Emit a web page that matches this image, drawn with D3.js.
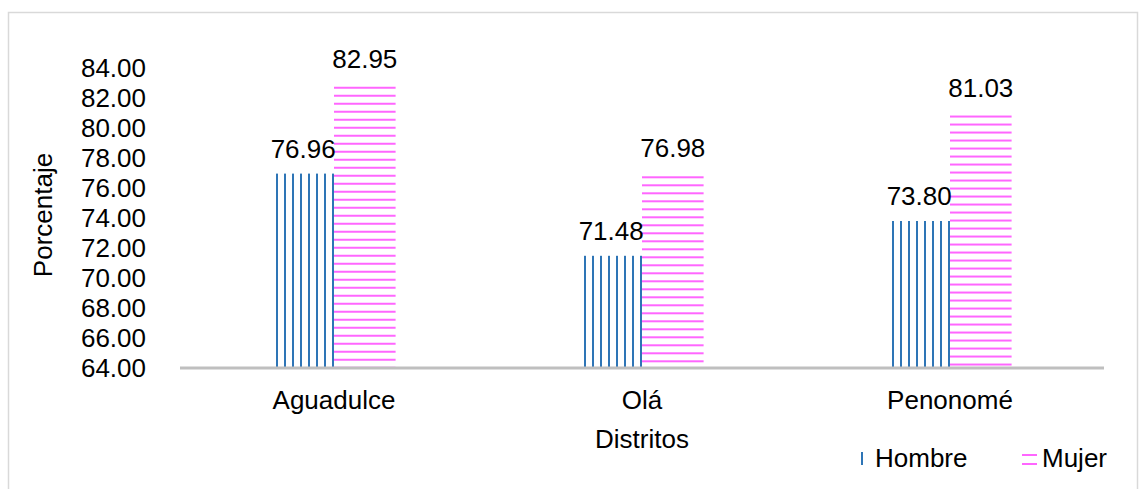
<!DOCTYPE html>
<html>
<head>
<meta charset="utf-8">
<script src="https://cdn.jsdelivr.net/npm/d3@7"></script>
<style>
  body { margin: 0; background: #fff; }
  text { font-family: "Liberation Sans", Arial, sans-serif; fill: #000; }
</style>
</head>
<body>
<svg id="chart" width="1146" height="489"></svg>
<script>
var distritos = ["Aguadulce", "Olá", "Penonomé"];
var hombre = [76.96, 71.48, 73.80];
var mujer = [82.95, 76.98, 81.03];
var series = ["Hombre", "Mujer"];
var yTicks = [64, 66, 68, 70, 72, 74, 76, 78, 80, 82, 84];

var colors = {Hombre: "#2e75b6", Mujer: "#ff66ff"};
var fs = "26px";

var svg = d3.select("#chart");

// outer frame
svg.append("rect")
   .attr("x", 8.5).attr("y", 12.5)
   .attr("width", 1129).attr("height", 500)
   .attr("fill", "none")
   .attr("stroke", "#d9d9d9")
   .attr("stroke-width", 1.5);

var x0 = d3.scaleBand()
   .domain(distritos)
   .range([180, 1104])
   .paddingInner(0)
   .paddingOuter(0);

var x1 = d3.scaleBand()
   .domain(series)
   .range([0, x0.bandwidth() * 0.4]);

var y = d3.scaleLinear()
   .domain([64, 84])
   .range([368, 68]);

// y tick labels
svg.append("g")
   .selectAll("text")
   .data(yTicks)
   .join("text")
   .attr("x", 146)
   .attr("y", function (d) { return y(d); })
   .attr("dy", "0.35em")
   .attr("text-anchor", "end")
   .style("font-size", fs)
   .text(function (d) { return d.toFixed(2); });

var rows = [];
distritos.forEach(function (c, i) {
   rows.push({cat: c, s: "Hombre", v: hombre[i], i: i});
   rows.push({cat: c, s: "Mujer", v: mujer[i], i: i});
});

function barX(d) {
   return x0(d.cat) + x0.bandwidth() * 0.3 + x1(d.s);
}

// one pattern per bar so the stripes line up with each bar
var defs = svg.append("defs");
rows.forEach(function (d, k) {
   var bx = barX(d), bw = x1.bandwidth(), by = y(d.v);
   var p = defs.append("pattern")
      .attr("id", "pat" + k)
      .attr("patternUnits", "userSpaceOnUse")
      .attr("width", 8).attr("height", 8);
   if (d.s === "Hombre") {
      p.attr("x", bx + bw - 2).attr("y", 0);
      p.append("rect").attr("x", 0).attr("y", 0)
       .attr("width", 2).attr("height", 8)
       .attr("fill", colors.Hombre);
   } else {
      p.attr("x", bx).attr("y", by + 3);
      p.append("rect").attr("x", 0).attr("y", 0)
       .attr("width", 8).attr("height", 2)
       .attr("fill", colors.Mujer);
   }
   d.pat = "url(#pat" + k + ")";
});

svg.append("g")
   .selectAll("rect")
   .data(rows)
   .join("rect")
   .attr("x", barX)
   .attr("y", function (d) { return y(d.v); })
   .attr("width", x1.bandwidth())
   .attr("height", function (d) { return y(64) - y(d.v); })
   .attr("fill", function (d) { return d.pat; });

// data labels
svg.append("g")
   .selectAll("text")
   .data(rows)
   .join("text")
   .attr("x", function (d) { return barX(d) + x1.bandwidth() / 2; })
   .attr("y", function (d) { return y(d.v) - 16; })
   .attr("text-anchor", "middle")
   .style("font-size", fs)
   .text(function (d) { return d.v.toFixed(2); });

// x axis line
svg.append("line")
   .attr("x1", 180).attr("x2", 1104)
   .attr("y1", y(64)).attr("y2", y(64))
   .attr("stroke", "#bfbfbf")
   .attr("stroke-width", 3);

// category labels
svg.append("g")
   .selectAll("text")
   .data(distritos)
   .join("text")
   .attr("x", function (d) { return x0(d) + x0.bandwidth() / 2; })
   .attr("y", 409)
   .attr("text-anchor", "middle")
   .style("font-size", fs)
   .text(function (d) { return d; });

// axis titles
svg.append("text")
   .attr("x", 642).attr("y", 448)
   .attr("text-anchor", "middle")
   .style("font-size", fs)
   .text("Distritos");

svg.append("text")
   .attr("transform", "translate(52,215) rotate(-90)")
   .attr("text-anchor", "middle")
   .style("font-size", fs)
   .text("Porcentaje");

// legend
var legend = svg.append("g");
legend.append("rect")
   .attr("x", 861).attr("y", 452).attr("width", 2).attr("height", 13)
   .attr("fill", colors.Hombre);
legend.append("text")
   .attr("x", 875).attr("y", 467)
   .style("font-size", fs)
   .text(series[0]);
legend.append("rect")
   .attr("x", 1022).attr("y", 454).attr("width", 15).attr("height", 2)
   .attr("fill", colors.Mujer);
legend.append("rect")
   .attr("x", 1022).attr("y", 463).attr("width", 15).attr("height", 2)
   .attr("fill", colors.Mujer);
legend.append("text")
   .attr("x", 1042).attr("y", 467)
   .style("font-size", fs)
   .text(series[1]);
</script>
</body>
</html>
